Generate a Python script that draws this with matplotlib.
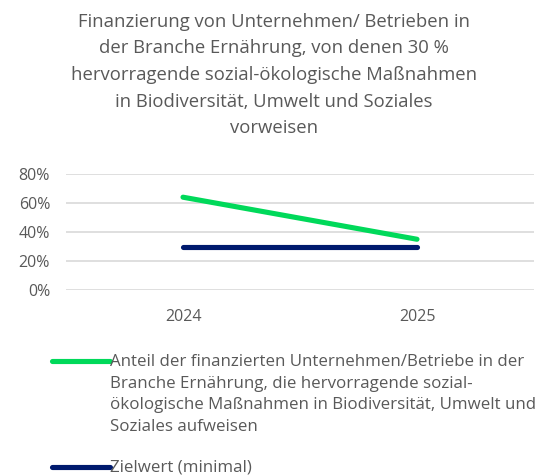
import matplotlib
matplotlib.use("Agg")
import matplotlib.pyplot as plt
from matplotlib.lines import Line2D
from matplotlib.ticker import PercentFormatter

years = ["2024", "2025"]
anteil = [0.64, 0.35]
zielwert = [0.30, 0.30]
yticks = [0.0, 0.2, 0.4, 0.6, 0.8]

title = ("Finanzierung von Unternehmen/ Betrieben in\n"
         "der Branche Ernährung, von denen 30 %\n"
         "hervorragende sozial-ökologische Maßnahmen\n"
         "in Biodiversität, Umwelt und Soziales\n"
         "vorweisen")
label_anteil = ("Anteil der finanzierten Unternehmen/Betriebe in der\n"
                "Branche Ernährung, die hervorragende sozial-\n"
                "ökologische Maßnahmen in Biodiversität, Umwelt und\n"
                "Soziales aufweisen")
label_ziel = "Zielwert (minimal)"

GREEN = "#00D95A"
NAVY = "#001A6E"
TXT = "#595959"
FONT = "Open Sans"

W, H = 548, 475
fig = plt.figure(figsize=(W / 100, H / 100), dpi=100)

def fx(px):
    return px / W

def fy(py):
    return 1 - py / H

# axes: left 66, right 534, top(80%) 174, bottom(0%) 290
left, right, top, bottom = 66, 534, 174, 290
ax = fig.add_axes([fx(left), fy(bottom), fx(right - left), (bottom - top) / H])
x = range(len(years))
ax.plot(x, anteil, color=GREEN, lw=3.7, solid_capstyle="round")
ax.plot(x, zielwert, color=NAVY, lw=3.7, solid_capstyle="round")
ax.set_xlim(-0.5, 1.5)
ax.set_ylim(0, 0.8)
ax.set_yticks(yticks)
ax.yaxis.set_major_formatter(PercentFormatter(1.0, decimals=0))
ax.set_xticks(list(x))
ax.set_xticklabels(years)
ax.grid(axis="y", color="#D9D9D9", lw=1.2)
ax.set_axisbelow(True)
for s in ax.spines.values():
    s.set_visible(False)
ax.tick_params(length=0, labelsize=11.5, labelcolor=TXT)
ax.tick_params(axis="y", pad=11.5)
ax.tick_params(axis="x", pad=14)
for lab in ax.get_xticklabels() + ax.get_yticklabels():
    lab.set_fontfamily(FONT)
for l in ax.lines:
    l.set_clip_on(False)

fig.text(0.5, fy(75), title, ha="center", va="center", fontsize=13.3,
         color=TXT, family=FONT, linespacing=1.62)

# legend
fig.add_artist(Line2D([fx(52), fx(110)], [fy(360.5), fy(360.5)], color=GREEN,
                      lw=3.7, solid_capstyle="round"))
fig.text(fx(110), fy(354), label_anteil, ha="left", va="top", fontsize=12.2,
         color=TXT, family=FONT, linespacing=1.47)
fig.add_artist(Line2D([fx(52), fx(110)], [fy(466.5), fy(466.5)], color=NAVY,
                      lw=3.7, solid_capstyle="round"))
fig.text(fx(110), fy(467), label_ziel, ha="left", va="center", fontsize=12.2,
         color=TXT, family=FONT)

fig.savefig("out.png", dpi=100)
